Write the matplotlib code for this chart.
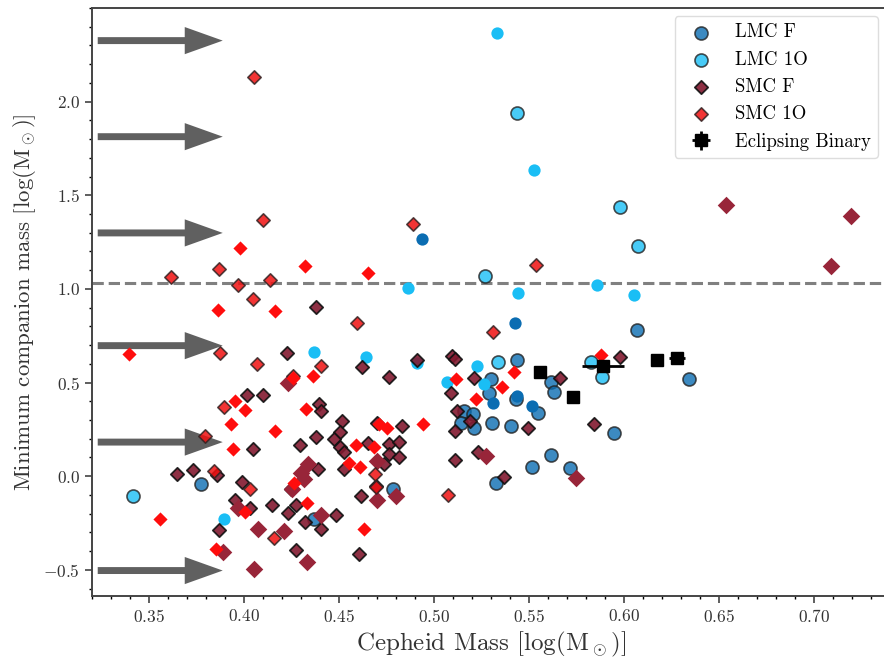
import matplotlib
matplotlib.use('Agg')
import matplotlib.pyplot as plt
from matplotlib.ticker import MultipleLocator

plt.rcParams['font.family'] = 'serif'
plt.rcParams['font.serif'] = ['cmr10']
plt.rcParams['mathtext.fontset'] = 'cm'
plt.rcParams['axes.formatter.use_mathtext'] = True

# LMC fundamental mode (edged / plain)
lmc_f_x = [0.3775, 0.4783, 0.5160, 0.5204, 0.5142, 0.5212, 0.5300, 0.5291, 0.5435, 0.5618,
           0.5629, 0.5432, 0.5546, 0.5303, 0.5405, 0.5616, 0.5514, 0.5718, 0.5324, 0.5946,
           0.6067, 0.6341, 0.4368]
lmc_f_y = [-0.044, -0.071, 0.348, 0.331, 0.286, 0.259, 0.518, 0.443, 0.622, 0.505,
           0.447, 0.411, 0.338, 0.282, 0.266, 0.111, 0.050, 0.045, -0.039, 0.233,
           0.779, 0.518, -0.227]
lmc_f2_x = [0.4935, 0.5427, 0.5309, 0.5438, 0.5517]
lmc_f2_y = [1.265, 0.818, 0.393, 0.427, 0.375]

# LMC first overtone
lmc_1o_x = [0.3414, 0.5268, 0.5335, 0.5826, 0.5884, 0.5979, 0.6072, 0.5435]
lmc_1o_y = [-0.107, 1.069, 0.608, 0.608, 0.527, 1.435, 1.229, 1.942]
lmc_1o2_x = [0.3896, 0.4370, 0.4642, 0.4862, 0.4911, 0.5067, 0.5225, 0.5265, 0.5441,
             0.5859, 0.6053, 0.5332, 0.5525]
lmc_1o2_y = [-0.230, 0.661, 0.635, 1.007, 0.602, 0.501, 0.589, 0.491, 0.979,
             1.022, 0.966, 2.367, 1.635]

# SMC fundamental mode
smc_f_x = [0.4226, 0.4017, 0.4100, 0.4049, 0.3647, 0.3732, 0.3858, 0.3988, 0.3954, 0.4033,
           0.3867, 0.4146, 0.4232, 0.4245, 0.4379, 0.4621, 0.4762, 0.4913, 0.5095, 0.5111,
           0.5209, 0.5665, 0.5089, 0.5119, 0.5189, 0.5111, 0.5230, 0.5112, 0.5368, 0.5496,
           0.5841, 0.5981, 0.4395, 0.4405, 0.4514, 0.4507, 0.4379, 0.4472, 0.4296, 0.4507,
           0.4525, 0.4700, 0.4832, 0.4654, 0.4762, 0.4814, 0.4762, 0.4814, 0.4528, 0.4738,
           0.4388, 0.4695, 0.4616, 0.4274, 0.4484, 0.4321, 0.4405, 0.4274, 0.4607]
smc_f_y = [0.658, 0.432, 0.436, 0.143, 0.013, 0.032, 0.004, -0.032, -0.125, -0.169,
           -0.289, -0.152, -0.195, -0.071, 0.902, 0.581, 0.531, 0.623, 0.643, 0.628,
           0.522, 0.522, 0.443, 0.348, 0.295, 0.241, 0.129, 0.089, -0.003, 0.257,
           0.277, 0.635, 0.384, 0.347, 0.292, 0.236, 0.209, 0.197, 0.165, 0.158,
           0.129, 0.286, 0.268, 0.179, 0.174, 0.182, 0.116, 0.102, 0.036, 0.063,
           0.036, -0.054, -0.107, -0.152, -0.209, -0.247, -0.282, -0.393, -0.414]
smc_f2_x = [0.4232, 0.3967, 0.4072, 0.4212, 0.3888, 0.4054, 0.4700, 0.4335, 0.4300, 0.4317,
            0.4253, 0.4700, 0.4800, 0.4405, 0.4332, 0.5274, 0.5745, 0.6537, 0.7195, 0.7089]
smc_f2_y = [0.497, -0.169, -0.282, -0.295, -0.405, -0.495, 0.080, 0.063, 0.018, -0.014,
            -0.071, -0.125, -0.107, -0.205, -0.456, 0.107, -0.009, 1.447, 1.390, 1.122]

# SMC first overtone
smc_1o_x = [0.4051, 0.4102, 0.3867, 0.3616, 0.3970, 0.4137, 0.4047, 0.3872, 0.4067, 0.3893,
            0.3796, 0.3842, 0.4033, 0.4156, 0.4889, 0.4595, 0.4405, 0.5309, 0.5537, 0.4689,
            0.4695, 0.5072, 0.4256]
smc_1o_y = [2.133, 1.370, 1.106, 1.066, 1.020, 1.050, 0.945, 0.658, 0.600, 0.372,
            0.214, 0.025, -0.066, -0.330, 1.349, 0.818, 0.589, 0.772, 1.129, 0.009,
            -0.059, -0.098, 0.536]
smc_1o2_x = [0.3979, 0.3862, 0.4162, 0.3396, 0.3953, 0.4005, 0.3933, 0.4163, 0.3942, 0.3556,
             0.4005, 0.3853, 0.4319, 0.4653, 0.4362, 0.4258, 0.4326, 0.4712, 0.4753, 0.4941,
             0.4591, 0.4686, 0.4554, 0.4611, 0.4330, 0.4630, 0.5116, 0.5221, 0.5358, 0.5423,
             0.5879, 0.4261]
smc_1o2_y = [1.219, 0.886, 0.881, 0.652, 0.402, 0.354, 0.277, 0.240, 0.143, -0.228,
             -0.193, -0.389, 1.124, 1.086, 0.534, 0.524, 0.357, 0.277, 0.259, 0.277,
             0.165, 0.158, 0.072, 0.050, -0.143, -0.282, 0.518, 0.411, 0.474, 0.557,
             0.647, -0.034]

# eclipsing binaries
eb_x = [0.5558, 0.5730, 0.5891, 0.6174, 0.6279]
eb_y = [0.554, 0.424, 0.586, 0.622, 0.629]
eb_xerr = [0.002, 0.002, 0.011, 0.002, 0.004]
eb_yerr = [0.01, 0.01, 0.01, 0.01, 0.01]

# upper limits shown as arrows
arrow_y = [2.326, 1.813, 1.299, 0.697, 0.182, -0.504]
arrow_x0 = 0.3230
arrow_x1 = 0.3888

limit_line = 1.03

fig = plt.figure(figsize=(8.84, 6.58), dpi=100)
ax = fig.add_axes([0.1041, 0.0942, 0.9027, 0.8936])

for y in arrow_y:
    ax.arrow(arrow_x0, y, arrow_x1 - arrow_x0, 0, width=0.037, head_width=0.145,
             head_length=0.02, length_includes_head=True, color='#606060', lw=0, zorder=1)

ax.axhline(limit_line, color='#808080', ls='--', lw=2.2, zorder=1)

ek = dict(edgecolors='#222222', linewidths=1.2, alpha=0.8)
ax.scatter(lmc_f_x, lmc_f_y, s=88, marker='o', color='#0b6db2', label='LMC F', zorder=3, **ek)
ax.scatter(lmc_f2_x, lmc_f2_y, s=78, marker='o', color='#0b6db2', lw=0, zorder=3)
ax.scatter(lmc_1o_x, lmc_1o_y, s=88, marker='o', color='#1abef5', label='LMC 1O', zorder=3, **ek)
ax.scatter(lmc_1o2_x, lmc_1o2_y, s=78, marker='o', color='#1abef5', lw=0, zorder=3)
ax.scatter(smc_f_x, smc_f_y, s=46, marker='D', color='#82192f', label='SMC F', zorder=4,
           edgecolors='#111111', linewidths=1.3, alpha=0.9)
ax.scatter(smc_f2_x, smc_f2_y, s=80, marker='D', color='#982539', lw=0, zorder=4)
ax.scatter(smc_1o_x, smc_1o_y, s=46, marker='D', color='#f01010', label='SMC 1O', zorder=5,
           edgecolors='#332222', linewidths=1.2, alpha=0.85)
ax.scatter(smc_1o2_x, smc_1o2_y, s=52, marker='D', color='#ff0d0d', lw=0, zorder=5)
ax.errorbar(eb_x, eb_y, xerr=eb_xerr, yerr=eb_yerr, fmt='s', color='black', ms=9,
            elinewidth=2, label='Eclipsing Binary', zorder=6)

ax.set_xlim(0.32, 0.74)
ax.set_ylim(-0.64, 2.5)
ax.xaxis.set_major_locator(MultipleLocator(0.05))
ax.xaxis.set_minor_locator(MultipleLocator(0.01))
ax.set_yticks([-0.5, 0.0, 0.5, 1.0, 1.5, 2.0])
ax.yaxis.set_minor_locator(MultipleLocator(0.1))
ax.tick_params(which='major', length=5, width=1.1, labelsize=12.5, colors='#333333')
ax.tick_params(which='minor', length=2.5, width=1)
for sp in ax.spines.values():
    sp.set_color('#444444')
    sp.set_linewidth(1.4)

ax.set_xlabel(r'Cepheid Mass [log(M$_\odot$)]', fontsize=18, color='#333333')
ax.set_ylabel(r'Minimum companion mass [log(M$_\odot$)]', fontsize=16.5, color='#333333')

ax.legend(loc='upper right', bbox_to_anchor=(878 / 884, 1 - 16 / 658),
          bbox_transform=fig.transFigure, fontsize=13.5, framealpha=1,
          edgecolor='#dddddd', borderaxespad=0)

fig.savefig('out.png', dpi=100)
